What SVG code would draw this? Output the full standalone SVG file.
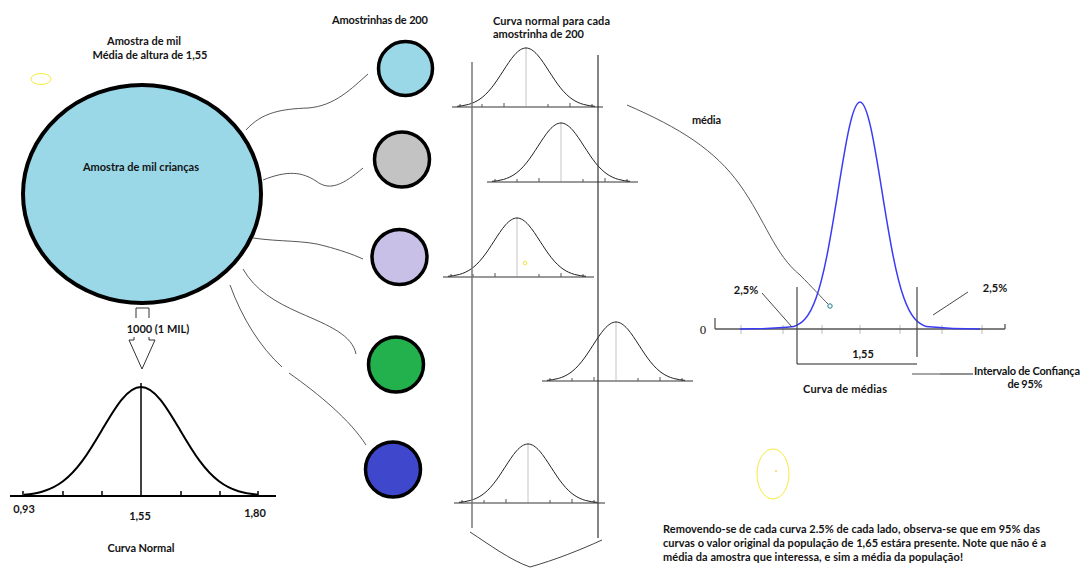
<svg xmlns="http://www.w3.org/2000/svg" xmlns:xlink="http://www.w3.org/1999/xlink" width="1083" height="570" viewBox="0 0 1083 570">
<style>
  text { font-family: Lato, "Liberation Sans", sans-serif; font-weight: bold; font-size: 11px; fill: #141414; }
  .ns { vector-effect: non-scaling-stroke; }
  .circ { stroke: #000; stroke-width: 3.5; }
  .conn { fill: none; stroke: #444; stroke-width: 0.9; }
  .mcurve { fill: none; stroke: #222; stroke-width: 1; }
  .maxis { stroke: #777; stroke-width: 1.3; }
  .mtick { stroke: #555; stroke-width: 1; }
  .mcenter { stroke: #c4c4c4; stroke-width: 1; }
</style>
<defs>
  <path id="gauss" class="ns" fill="none" d="M-300,-1.11 C-283.33,-1.67 -266.67,-2.56 -250,-4.39 C-233.33,-6.22 -216.67,-9.02 -200,-13.53 C-183.33,-18.04 -166.67,-24.35 -150,-32.47 C-133.33,-40.59 -116.67,-50.54 -100,-60.65 C-83.33,-70.76 -66.67,-80.89 -50,-88.25 C-33.33,-95.61 -16.67,-100 0,-100 C16.67,-100 33.33,-95.61 50,-88.25 C66.67,-80.89 83.33,-70.76 100,-60.65 C116.67,-50.54 133.33,-40.59 150,-32.47 C166.67,-24.35 183.33,-18.04 200,-13.53 C216.67,-9.02 233.33,-6.22 250,-4.39 C266.67,-2.56 283.33,-1.67 300,-1.11"/>
  <g id="mini">
    <line class="mcenter" x1="0" y1="-60" x2="0" y2="0"/>
    <line class="maxis" x1="-74" y1="0" x2="77" y2="0"/>
    <g class="mtick">
      <line x1="-66" y1="0" x2="-66" y2="-3"/>
      <line x1="-44" y1="0" x2="-44" y2="-3"/>
      <line x1="-22" y1="0" x2="-22" y2="-4"/>
      <line x1="22" y1="0" x2="22" y2="-3"/>
      <line x1="44" y1="0" x2="44" y2="-4"/>
      <line x1="66" y1="0" x2="66" y2="-3"/>
    </g>
    <use xlink:href="#gauss" class="mcurve" transform="scale(0.23,0.59)"/>
  </g>
</defs>
<rect width="1083" height="570" fill="#fff"/>

<!-- titles -->
<g id="title-main">
  <text x="144" y="45" text-anchor="middle" textLength="74">Amostra de mil</text>
  <text x="150" y="59" text-anchor="middle" textLength="115">Média de altura de 1,55</text>
</g>
<ellipse cx="41" cy="79" rx="10" ry="5.5" fill="none" stroke="#f5ec3a" stroke-width="1"/>

<!-- connectors -->
<g id="connectors">
  <path class="conn" d="M246,130 C262,112 282,109 308,108 C335,106 352,88 368,74"/>
  <path class="conn" d="M263,180 C288,170 302,172 316,181 C330,192 344,184 363,168"/>
  <path class="conn" d="M253,238 C280,242 305,240 325,246 C340,250 352,254 363,259"/>
  <path class="conn" d="M243,269 C255,290 275,302 300,313 C330,326 352,335 356,354"/>
  <path class="conn" d="M230,285 C242,318 260,347 282,367"/>
  <path class="conn" d="M289,373 C320,395 350,420 366,445"/>
  <path class="conn" d="M627,105 C680,128 715,150 740,185 C765,220 775,255 800,275 C812,287 822,298 828,304"/>
  <circle cx="830" cy="306" r="2.2" fill="none" stroke="#1e7a8c" stroke-width="1"/>
</g>

<!-- big sample node -->
<g id="node-amostra">
  <ellipse cx="142" cy="194" rx="119" ry="109" fill="#9ad8e8" stroke="#000" stroke-width="4"/>
  <text x="141" y="171" text-anchor="middle" textLength="116">Amostra de mil crianças</text>
</g>

<!-- arrow -->
<g id="node-arrow">
  <path d="M136,318 L136,308 L149,308 L149,318" fill="none" stroke="#333" stroke-width="1"/>
  <text x="158" y="333" text-anchor="middle">1000 (1 MIL)</text>
  <path d="M134,337 L134,340 L129,340 L142,369 L155,340 L149,340 L149,337" fill="#fff" stroke="#333" stroke-width="1"/>
</g>

<!-- normal curve bottom left -->
<g id="node-curva-normal">
  <line x1="141" y1="383" x2="141" y2="496" stroke="#000" stroke-width="1.5"/>
  <g stroke="#000" stroke-width="1.5">
    <line x1="23" y1="491" x2="23" y2="496"/>
    <line x1="63" y1="491" x2="63" y2="496"/>
    <line x1="102" y1="491" x2="102" y2="496"/>
    <line x1="181" y1="491" x2="181" y2="496"/>
    <line x1="220" y1="491" x2="220" y2="496"/>
    <line x1="258" y1="491" x2="258" y2="496"/>
  </g>
  <line x1="10" y1="496" x2="276" y2="496" stroke="#000" stroke-width="2"/>
  <use xlink:href="#gauss" transform="translate(141,496) scale(0.39,1.09)" stroke="#000" stroke-width="2"/>
  <text x="24" y="513" text-anchor="middle">0,93</text>
  <text x="140" y="520" text-anchor="middle">1,55</text>
  <text x="255" y="517" text-anchor="middle">1,80</text>
  <text x="141" y="552" text-anchor="middle" textLength="67">Curva Normal</text>
</g>

<!-- small samples -->
<text x="380" y="24" text-anchor="middle" textLength="96">Amostrinhas de 200</text>
<g id="node-amostrinha-1"><circle class="circ" cx="405.5" cy="68.5" r="27" fill="#9ad8e8"/></g>
<g id="node-amostrinha-2"><circle class="circ" cx="402" cy="159.5" r="27.5" fill="#c3c3c3"/></g>
<g id="node-amostrinha-3"><circle class="circ" cx="399.5" cy="257" r="27.5" fill="#c8c0e6"/></g>
<g id="node-amostrinha-4"><circle class="circ" cx="396" cy="364.5" r="27.5" fill="#22b14c"/></g>
<g id="node-amostrinha-5"><circle class="circ" cx="393" cy="469.5" r="27.5" fill="#3f48cc"/></g>

<!-- curves per small sample -->
<g id="node-curvas-amostrinhas">
  <text x="493" y="25" textLength="117">Curva normal para cada</text>
  <text x="493" y="38" textLength="91">amostrinha de 200</text>
  <use xlink:href="#mini" transform="translate(526,107)"/>
  <use xlink:href="#mini" transform="translate(561,182)"/>
  <use xlink:href="#mini" transform="translate(517,277)"/>
  <use xlink:href="#mini" transform="translate(616,381)"/>
  <use xlink:href="#mini" transform="translate(528,503)"/>
  <circle cx="525" cy="263" r="1.8" fill="none" stroke="#f0e030" stroke-width="0.9"/>
  <line x1="472" y1="62" x2="472" y2="528" stroke="#777" stroke-width="1.5"/>
  <line x1="598" y1="55" x2="598" y2="538" stroke="#333" stroke-width="1.2"/>
  <path d="M470,532 C490,545 510,560 530,567 C555,560 580,550 602,540" fill="none" stroke="#444" stroke-width="1"/>
</g>

<!-- curve of means -->
<g id="node-curva-medias">
  <text x="692" y="124" textLength="29">média</text>
  <g stroke="#bbb" stroke-width="1">
    <line x1="741" y1="325" x2="741" y2="334"/>
    <line x1="783" y1="325" x2="783" y2="334"/>
    <line x1="822" y1="325" x2="822" y2="334"/>
    <line x1="860" y1="325" x2="860" y2="334"/>
    <line x1="900" y1="325" x2="900" y2="334"/>
    <line x1="942" y1="325" x2="942" y2="334"/>
    <line x1="982" y1="325" x2="982" y2="334"/>
  </g>
  <line x1="715" y1="329" x2="1005" y2="329" stroke="#555" stroke-width="1.3"/>
  <line x1="715" y1="318" x2="715" y2="329" stroke="#555" stroke-width="1.3"/>
  <line x1="1005" y1="324" x2="1005" y2="329" stroke="#555" stroke-width="1.3"/>
  <text x="703" y="334" text-anchor="middle" style="font-family:'Liberation Serif',serif;font-weight:normal;font-size:13px">0</text>
  <use xlink:href="#gauss" transform="translate(860,329) scale(0.22,2.27)" stroke="#3b3bf5" stroke-width="1.5"/>
  <path d="M740,329 C765,329 785,327.5 794,326.5 M926,326.5 C940,327.8 960,329 980,329" fill="none" stroke="#3b3bf5" stroke-width="1.5"/>
  <line x1="797" y1="287" x2="797" y2="364" stroke="#444" stroke-width="1.2"/>
  <line x1="917" y1="287" x2="917" y2="357" stroke="#444" stroke-width="1.2"/>
  <line x1="797" y1="364" x2="917" y2="364" stroke="#222" stroke-width="1"/>
  <text x="863" y="358" text-anchor="middle">1,55</text>
  <text x="746" y="294" text-anchor="middle">2,5%</text>
  <line x1="762" y1="293" x2="792" y2="327" stroke="#333" stroke-width="0.9"/>
  <text x="995" y="292" text-anchor="middle">2,5%</text>
  <line x1="968" y1="292" x2="933" y2="315" stroke="#333" stroke-width="0.9"/>
  <line x1="912" y1="374" x2="940" y2="374" stroke="#888" stroke-width="1.5"/>
  <line x1="940" y1="374" x2="973" y2="374" stroke="#222" stroke-width="1"/>
  <text x="974" y="375" textLength="106">Intervalo de Confiança</text>
  <text x="1025" y="388" text-anchor="middle" textLength="35">de 95%</text>
  <text x="845" y="393" text-anchor="middle" textLength="84">Curva de médias</text>
</g>

<ellipse cx="773" cy="474" rx="16" ry="25" fill="none" stroke="#f5ec3a" stroke-width="1"/>
<circle cx="776" cy="471" r="0.8" fill="#e0c000"/>

<!-- note -->
<g id="node-nota">
  <text x="663" y="533" textLength="377">Removendo-se de cada curva 2.5% de cada lado, observa-se que em 95% das</text>
  <text x="663" y="547" textLength="383">curvas o valor original da população de 1,65 estára presente. Note que não é a</text>
  <text x="663" y="561" textLength="300">média da amostra que interessa, e sim a média da população!</text>
</g>
</svg>
